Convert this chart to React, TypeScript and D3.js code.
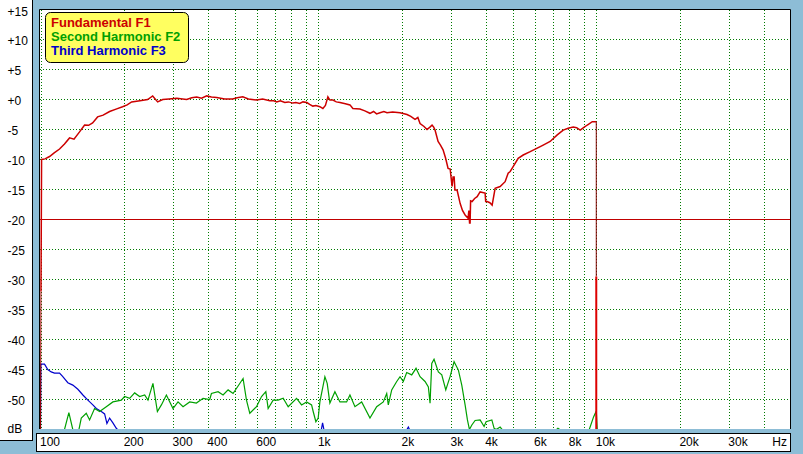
import React from "react";
import * as d3 from "d3";

// ---- data: [frequency Hz, level dB] ----
const fundamental: [number, number][] = [
  [100, -55], [100.4, -32], [100.9, -10], [103.8, -9.9], [107.8, -9.5], [112, -8.9], [117.1, -8.25],
  [122, -7.4], [127.2, -6.4], [132, -6.6], [138.2, -5.4], [144.1, -4.25], [149, -4.3], [154, -3.9],
  [160.5, -2.9], [168, -2.6], [177.3, -2.0], [187, -1.6], [197.4, -1.2], [205, -0.9], [212.8, -0.4],
  [228, -0.2], [243, 0.0], [253.3, 0.6], [264, -0.4], [275.3, 0.0], [290, 0.1], [309.2, 0.2],
  [335.7, 0.0], [350, 0.3], [364.8, 0.4], [380, 0.2], [396.3, 0.6], [412, 0.4], [430.5, 0.35],
  [460, 0.1], [491.7, 0.1], [510, 0.3], [534.5, 0.45], [560, 0.1], [600, -0.1], [630, 0.1],
  [668.7, -0.2], [690, -0.2], [708, -0.4], [730, -0.2], [757, -0.5], [780, -0.4], [809, -0.6],
  [830, -0.5], [857, -0.65], [880, -0.4], [909, -0.5], [930, -0.8], [955, -1.1], [980, -1.0],
  [1012, -1.2], [1038, -1.5], [1060, -1.0], [1082, 0.45], [1100, -0.1], [1128, -0.1], [1160, -0.4],
  [1196, -0.5], [1250, -0.7], [1299, -0.9], [1331, -1.5], [1411, -1.6], [1470, -1.9], [1533, -2.3],
  [1580, -2.0], [1620, -2.4], [1666, -2.2], [1720, -2.0], [1766, -2.2], [1850, -2.1], [1967, -2.2],
  [2084, -2.5], [2150, -2.8], [2227, -3.3], [2280, -3.0], [2322, -4.0], [2400, -4.5], [2460, -5.0],
  [2520, -4.6], [2565, -4.25], [2600, -4.6], [2629, -5.1], [2696, -7.0], [2750, -7.6], [2810, -8.4],
  [2870, -9.8], [2929, -11.5], [2980, -11.6], [3028, -14.5], [3053, -12.9], [3080, -12.9],
  [3100, -15.1], [3156, -15.1], [3236, -17.3], [3300, -18.5], [3373, -19.25], [3457, -19.8],
  [3480, -18.5], [3500, -20.6], [3515, -20.6], [3530, -16.9], [3574, -17.0], [3650, -16.5],
  [3726, -16.2], [3819, -15.4], [3981, -15.6], [4000, -17.0], [4048, -17.0], [4140, -17.2],
  [4220, -17.6], [4325, -14.8], [4508, -14.5], [4699, -13.7], [4818, -12.3], [4900, -12.0],
  [5022, -11.2], [5236, -9.8], [5458, -9.25], [5783, -8.7], [6130, -8.1], [6442, -7.6],
  [6823, -7.0], [7237, -5.9], [7603, -5.1], [7925, -4.8], [8261, -4.6], [8500, -4.7], [8753, -5.1],
  [9000, -4.7], [9283, -4.25], [9674, -3.7], [9917, -3.7], [10000, -3.7], [10000, -29.5], [10001, -55],
];

const secondHarmonic: [number, number][] = [
  [122, -55], [126.5, -52.2], [130.7, -55], [137.5, -55], [140.2, -53.1], [146.1, -52.3],
  [150.2, -53.4], [156.5, -51.5], [163.2, -52.0], [172.5, -51.2], [182.2, -50.4], [195.4, -50.1],
  [200.7, -49.5], [209.3, -49.8], [218.2, -48.9], [227.4, -49.5], [237.1, -49.25], [243.6, -50.1],
  [253.9, -47.3], [263.4, -52.0], [272.3, -50.9], [283.8, -49.25], [299.8, -51.5], [312.5, -50.4],
  [325.8, -51.2], [344.3, -50.4], [363.9, -50.6], [384.6, -49.8], [406.4, -50.0], [412.2, -49.0],
  [435.5, -48.7], [454, -49.25], [473.2, -48.4], [493.2, -49.0], [535.8, -46.5], [551.1, -50.1],
  [566.5, -52.3], [598.9, -51.2], [624.3, -49.5], [647, -48.7], [659.5, -51.5], [687.4, -50.1],
  [716.6, -50.1], [746.9, -49.8], [778.6, -51.2], [834.6, -49.8], [870, -50.9], [907, -50.4],
  [945.2, -50.9], [957.8, -52.0], [979.5, -53.7], [998.4, -53.1], [1012.5, -50.4], [1055.4, -46.2],
  [1075.7, -47.3], [1100, -50.6], [1146.8, -48.7], [1195.4, -50.4], [1263.6, -50.4], [1298.8, -49.25],
  [1353.9, -51.2], [1431.3, -50.4], [1533.3, -53.1], [1621.1, -51.2], [1712.4, -50.4], [1761.6, -49.0],
  [1784.9, -50.9], [1836, -48.4], [1913.8, -47.0], [1967, -46.2], [2021.7, -47.0], [2079, -45.5],
  [2167.3, -45.9], [2246, -44.8], [2322, -46.2], [2420, -47.0], [2487.4, -47.9], [2522.6, -50.6],
  [2558.3, -44.0], [2607.6, -43.3], [2702.3, -45.4], [2779.9, -45.9], [2873.6, -48.4], [2978, -46.2],
  [3078.4, -43.7], [3190.3, -45.1], [3281, -47.6], [3373, -50.9], [3438.5, -53.4], [3496, -55],
  [3566.6, -54.25], [3664, -53.5], [3819, -53.4], [3948, -54.5], [4014, -53.7], [4209, -53.4],
  [4290, -54.8], [4362, -55], [4508, -54.6], [4585, -55], [7200, -55], [7278, -54.8], [7389, -55],
  [9436, -55], [9779, -52.9], [10000, -51.9], [10040, -53.4], [10083, -55],
];

const thirdHarmonic: [number, number][] = [
  [100, -55], [100.3, -44.1], [103.4, -44.1], [106.2, -45.0], [109.3, -45.4], [112.3, -45.6],
  [117.1, -45.6], [120.3, -46.2], [125.4, -47.2], [130.7, -47.6], [136.3, -48.3], [142.1, -49.25],
  [148.1, -50.1], [154.3, -50.9], [158.8, -51.5], [165.5, -52.0], [170.1, -52.4], [173.4, -54.0],
  [177.3, -53.1], [182.2, -53.9], [187.4, -54.8], [189.4, -55], [1025, -55], [1035.4, -53.9],
  [1046.7, -55], [2084, -55], [2107, -54.6], [2128, -55],
];

const gridFreqs = [
  100, 200, 300, 400, 500, 600, 700, 800, 900,
  1000, 2000, 3000, 4000, 5000, 6000, 7000, 8000, 9000,
  10000, 20000, 30000, 40000,
];
const xTickValues = [100, 200, 300, 400, 600, 1000, 2000, 3000, 4000, 6000, 8000, 10000, 20000, 30000];
const xTickLabels = ["100", "200", "300", "400", "600", "1k", "2k", "3k", "4k", "6k", "8k", "10k", "20k", "30k"];
const yTickValues = [15, 10, 5, 0, -5, -10, -15, -20, -25, -30, -35, -40, -45, -50, -55];
const yTickLabels = ["+15", "+10", "+5", "+0", "-5", "-10", "-15", "-20", "-25", "-30", "-35", "-40", "-45", "-50", "dB"];
const legendNames = ["Fundamental F1", "Second Harmonic F2", "Third Harmonic F3"];
const legendColors = ["#cc0000", "#00a000", "#0000cc"];
const markerLevel = -20;

const FONT = "'Liberation Sans', Arial, sans-serif";

export default function App() {
  const x = d3.scaleLog().domain([100, 50000]).range([40.5, 790.5]);
  const y = d3.scaleLinear().domain([15, -55]).range([9.5, 429.5]);
  const line = d3
    .line<[number, number]>()
    .x((d) => x(d[0]))
    .y((d) => y(d[1]));

  const plotL = 39.5, plotR = 790.5, plotT = 9.5, plotB = 429;

  // thin parts of the fundamental's vertical edges (first and last segments)
  const n = fundamental.length;
  const fMain = fundamental.slice(1, n - 2);
  const fTail = fundamental.slice(n - 2);
  const fHead = fundamental.slice(0, 2);
  const fEdge = fundamental.slice(n - 3, n - 1);

  return (
    <svg
      width={803}
      height={454}
      style={{ position: "fixed", left: 0, top: 0, display: "block" }}
      fontFamily={FONT}
    >
      <defs>
        <clipPath id="plotclip">
          <rect x={40} y={10} width={750} height={419} />
        </clipPath>
      </defs>
      <rect x={0} y={0} width={803} height={454} fill="#8dbdd6" />

      {/* left axis panel */}
      <rect x={-1} y={-1} width={33.5} height={441.5} fill="#ffffff" stroke="#000" strokeWidth={1} />
      {yTickValues.map((v, i) => (
        <text
          key={"yl" + i}
          x={7.5}
          y={y(v) + (i === 0 ? 6.5 : i === yTickValues.length - 1 ? 3 : 5)}
          fontSize={12}
          fill="#000"
        >
          {yTickLabels[i]}
        </text>
      ))}

      {/* bottom axis panel */}
      <rect x={36.5} y={433.5} width={754} height={18} fill="#ffffff" stroke="#000" strokeWidth={1} />
      {xTickValues.map((v, i) => (
        <text key={"xl" + i} x={x(v) - 0.5} y={446} fontSize={12} fill="#000">
          {xTickLabels[i]}
        </text>
      ))}
      <text x={787} y={446} fontSize={12} textAnchor="end" fill="#000">
        Hz
      </text>

      {/* plot area */}
      <rect x={40} y={10} width={750} height={419} fill="#ffffff" />
      <g stroke="#007a00" strokeWidth={1} strokeDasharray="1,2" fill="none">
        {gridFreqs.map((f) => (
          <line key={"vg" + f} x1={Math.round(x(f)) + 0.5} x2={Math.round(x(f)) + 0.5} y1={10} y2={429} />
        ))}
        {yTickValues
          .filter((v) => v < 15 && v > -55)
          .map((v) => (
            <line key={"hg" + v} x1={40} x2={790} y1={y(v)} y2={y(v)} />
          ))}
      </g>
      <line x1={40} x2={790} y1={y(markerLevel)} y2={y(markerLevel)} stroke="#c00000" strokeWidth={1} />

      <g clipPath="url(#plotclip)" fill="none" strokeLinejoin="miter">
        <path d={line(thirdHarmonic) || ""} stroke="#0000cc" strokeWidth={1.2} />
        <path d={line(secondHarmonic) || ""} stroke="#00a000" strokeWidth={1.2} />
        <path d={line(fHead) || ""} stroke="#a00000" strokeWidth={1} />
        <path d={line(fEdge) || ""} stroke="#800000" strokeWidth={1} />
        <path d={line(fMain) || ""} stroke="#cc0000" strokeWidth={1.5} />
        <path d={line(fTail) || ""} stroke="#dd0000" strokeWidth={2} />
      </g>

      {/* frame */}
      <path
        d={`M${plotL},${plotB} V${plotT} H${plotR} V${plotB}`}
        fill="none"
        stroke="#000"
        strokeWidth={1}
      />

      {/* legend */}
      <rect x={45.5} y={12.5} width={143} height={50} rx={5} ry={5} fill="#ffff60" stroke="#000" strokeWidth={1} />
      {legendNames.map((nm, i) => (
        <text key={nm} x={51} y={27 + i * 14} fontSize={13} fontWeight="bold" fill={legendColors[i]}>
          {nm}
        </text>
      ))}
    </svg>
  );
}
